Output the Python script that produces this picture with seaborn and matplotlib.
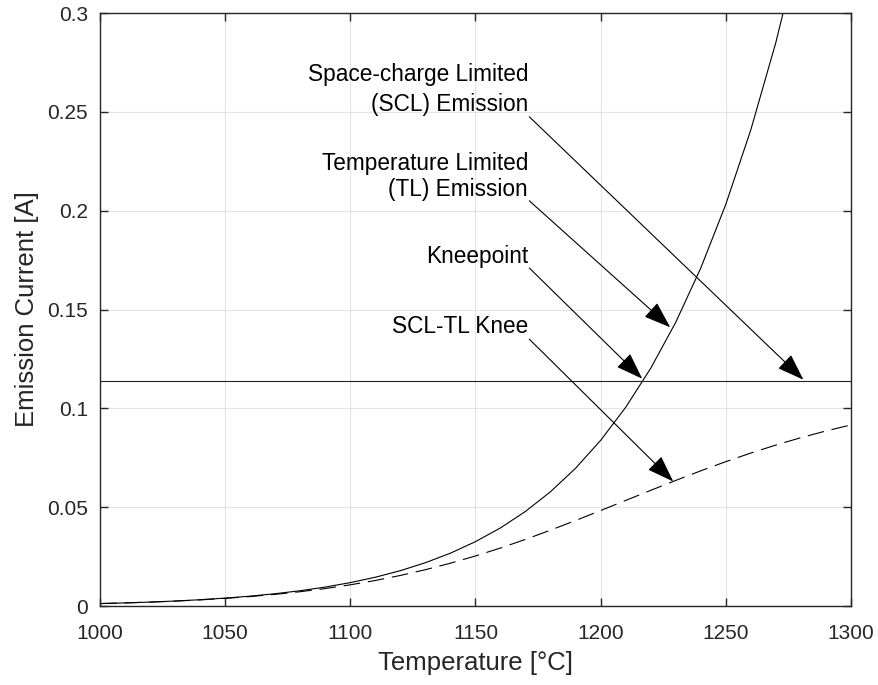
import pandas as pd
import seaborn as sns
import matplotlib.pyplot as plt
from matplotlib.ticker import FuncFormatter

# Temperature grid [°C]
temperature = [1000, 1010, 1020, 1030, 1040, 1050, 1060, 1070, 1080, 1090,
               1100, 1110, 1120, 1130, 1140, 1150, 1160, 1170, 1180, 1190,
               1200, 1210, 1220, 1230, 1240, 1250, 1260, 1270, 1280, 1290, 1300]

# Temperature limited emission (solid curve) [A]
tl_current = [0.00124, 0.00158, 0.00200, 0.00253, 0.00319, 0.00400, 0.00500,
              0.00623, 0.00774, 0.00959, 0.01184, 0.01457, 0.01789, 0.02191,
              0.02675, 0.03257, 0.03953, 0.04789, 0.05786, 0.06972, 0.08381,
              0.10051, 0.12027, 0.14354, 0.17098, 0.20321, 0.24094, 0.28513,
              0.33678, 0.39675, 0.46664]

# Combined SCL-TL knee curve (dashed) [A]
knee_current = [0.00123, 0.00156, 0.00197, 0.00248, 0.00310, 0.00386, 0.00479,
                0.00591, 0.00725, 0.00884, 0.01073, 0.01292, 0.01547, 0.01838,
                0.02167, 0.02533, 0.02935, 0.03373, 0.03839, 0.04327, 0.04831,
                0.05342, 0.05852, 0.06354, 0.06840, 0.07303, 0.07739, 0.08144,
                0.08517, 0.08856, 0.09162]

# Space-charge limited emission level [A]
scl_level = 0.114
scl_x = [1000, 1300]
scl_y = [scl_level, scl_level]

# Annotations: text lines with their baselines, arrow start, arrow tip
notes = [
    (["Space-charge Limited", "(SCL) Emission"], [0.2655, 0.2505], (1171.5, 0.2475), (1281, 0.1145)),
    (["Temperature Limited", "(TL) Emission"], [0.2208, 0.2075], (1171.5, 0.2050), (1227.8, 0.1410)),
    (["Kneepoint"], [0.1733], (1171.5, 0.1710), (1216.6, 0.1150)),
    (["SCL-TL Knee"], [0.1380], (1171.5, 0.1350), (1229.0, 0.0630)),
]

df = pd.DataFrame({"temperature": temperature, "tl": tl_current, "knee": knee_current})

sns.set_style("ticks")
plt.rcParams.update({
    'font.family': ['Liberation Sans', 'DejaVu Sans'],
    'axes.edgecolor': '#262626',
    'axes.linewidth': 1.0,
    'xtick.direction': 'in',
    'ytick.direction': 'in',
    'xtick.color': '#262626',
    'ytick.color': '#262626',
})

fig = plt.figure(figsize=(8.79, 6.85), dpi=100)
ax = fig.add_axes([0.1138, 0.1153, 0.8543, 0.8657])

sns.lineplot(data=df, x="temperature", y="tl", ax=ax, color="black", linewidth=0.8)
sns.lineplot(data=df, x="temperature", y="knee", ax=ax, color="black", linewidth=0.8,
             linestyle=(0, (15, 7)))
sns.lineplot(x=scl_x, y=scl_y, ax=ax, color="#222222", linewidth=0.8)

ax.set_xlim(1000, 1300)
ax.set_ylim(0, 0.3)
ax.set_xticks(range(1000, 1301, 50))
ax.set_yticks([0, 0.05, 0.1, 0.15, 0.2, 0.25, 0.3])
ax.yaxis.set_major_formatter(FuncFormatter(lambda v, p: f"{v:g}"))
ax.tick_params(labelsize=15, length=6, width=1.0, top=True, right=True)
ax.tick_params(axis="x", pad=13)
ax.tick_params(axis="y", pad=8.5)
ax.grid(True, color="#e3e3e3", linewidth=0.8)
ax.set_axisbelow(True)
for s in ax.spines.values():
    s.set_visible(True)

ax.set_xlabel("Temperature [°C]", fontsize=18.5, color="#262626", labelpad=6)
ax.set_ylabel("Emission Current [A]", fontsize=18.5, color="#262626", labelpad=6)

for lines, baselines, start, tip in notes:
    for line, base in zip(lines, baselines):
        ax.text(1171, base, line, ha="right", va="baseline", fontsize=16.3, color="black")
    ax.annotate("", xy=tip, xytext=start,
                arrowprops=dict(arrowstyle="-|>,head_length=0.85,head_width=0.3",
                                color="black", lw=0.8, mutation_scale=20,
                                shrinkA=0, shrinkB=0))

fig.savefig("out.png", dpi=100)
plt.close(fig)
